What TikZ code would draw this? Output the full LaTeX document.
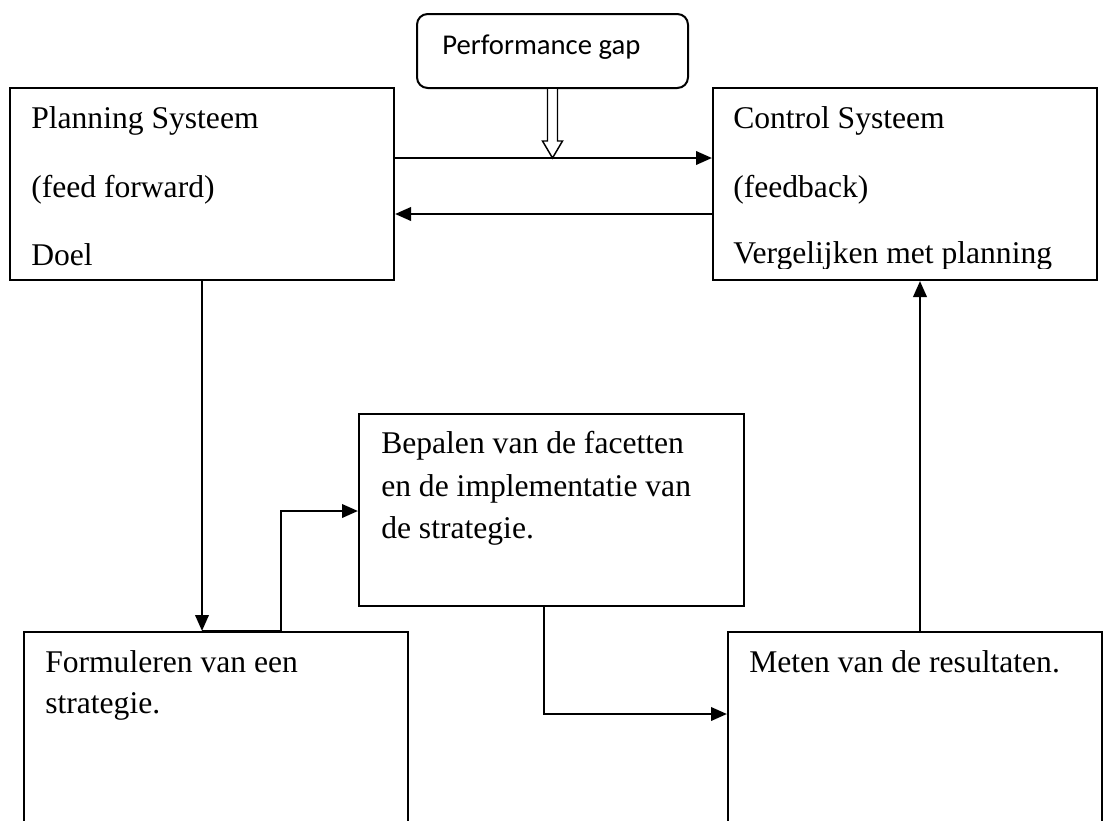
\documentclass[tikz,border=0pt]{standalone}
\usepackage{fontspec}
\setmainfont{Liberation Serif}
\newfontfamily\gapfont{Carlito}
\usetikzlibrary{arrows.meta,calc,fit}
\begin{document}
\begin{tikzpicture}[x=0.75pt,y=-0.75pt,
  box/.style={draw,line width=1.5pt,rectangle,inner sep=0pt},
  gapbox/.style={draw,line width=1.5pt,rectangle,rounded corners=8pt,inner sep=0pt},
  txt/.style={anchor=base west,inner sep=0pt,font=\fontsize{23.7pt}{28pt}\selectfont},
  gaptxt/.style={anchor=base west,inner sep=0pt,font=\gapfont\fontsize{21.5pt}{26pt}\selectfont},
  arr/.style={line width=2pt,-{Triangle[length=12pt,width=10pt]}},
  hollow/.style={line width=1.1pt,fill=white,line join=miter}]
\path[use as bounding box] (0,0) rectangle (1104,821);
\clip (0,0) rectangle (1104,821);

% boxes
\node[gapbox,fit={(417,14) (688,88)}] (gap) {};
\node[box,fit={(10,88) (394,280)}] (plan) {};
\node[box,fit={(713,88) (1097,280)}] (ctrl) {};
\node[box,fit={(359,414) (744,606)}] (bep) {};
\node[box,fit={(24,632) (408,850)}] (form) {};
\node[box,fit={(728,632) (1102,850)}] (meten) {};

% texts
\node[gaptxt] (tgap) at (442,55) {Performance gap};
\node[txt] (tplan1) at (31,128) {Planning Systeem};
\node[txt] (tplan2) at (31,197) {(feed forward)};
\node[txt] (tplan3) at (31,265) {Doel};
\node[txt] (tctrl1) at (733,128) {Control Systeem};
\node[txt] (tctrl2) at (733,197) {(feedback)};
\begin{scope}
\clip (713,88) rectangle (1097,268);
\node[txt] (tctrl3) at (733,263) {Vergelijken met planning};
\end{scope}
\node[txt] (tbep1) at (381,453) {Bepalen van de facetten};
\node[txt] (tbep2) at (381,496) {en de implementatie van};
\node[txt] (tbep3) at (381,538) {de strategie.};
\node[txt] (tform1) at (45,672) {Formuleren van een};
\node[txt] (tform2) at (45,713) {strategie.};
\node[txt] (tmet) at (749,672) {Meten van de resultaten.};

% hollow arrow from performance gap
\draw[hollow] ($(gap.south)+(-5,0)$) -- ($(gap.south)+(-5,52)$) -- ($(gap.south)+(-10,52)$)
  -- ($(gap.south)+(0,69)$) -- ($(gap.south)+(10,52)$) -- ($(gap.south)+(5,52)$)
  -- ($(gap.south)+(5,0)$);

% connectors
\draw[arr] (plan.east |- 0,158) -- (ctrl.west |- 0,158);
\draw[arr] (ctrl.west |- 0,214) -- (plan.east |- 0,214);
\draw[arr] (plan.south -| 202,0) -- (form.north -| 202,0);
\draw[arr] (form.north -| 202,0) -- (form.north -| 281,0) -- (281,511) -- (bep.west |- 0,511);
\draw[arr] (bep.south -| 544,0) -- (544,714) -- (meten.west |- 0,714);
\draw[arr] (meten.north -| 920,0) -- (ctrl.south -| 920,0);
\end{tikzpicture}
\end{document}
